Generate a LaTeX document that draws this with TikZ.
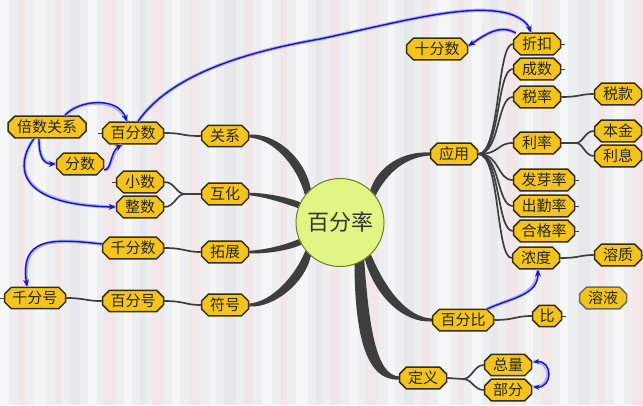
\documentclass[tikz,border=0pt]{standalone}
\usepackage{fontspec}
\newfontfamily\cjk{Noto Sans CJK SC}
\usetikzlibrary{shapes.misc,arrows.meta,backgrounds,calc}
\definecolor{boxfill}{HTML}{F4C41E}
\definecolor{boxline}{HTML}{3A2E08}
\definecolor{circfill}{HTML}{E0F584}
\definecolor{circline}{HTML}{6E7A28}
\definecolor{trunkc}{HTML}{3E3E3E}
\definecolor{relc}{HTML}{1616C8}
\definecolor{relhalo}{HTML}{AFAFF2}
\definecolor{bgbase}{HTML}{EDEEF0}
\definecolor{stpink}{HTML}{F3E6E8}
\definecolor{stwhite}{HTML}{F6F6F7}
\definecolor{stgray}{HTML}{E6E8EB}
\begin{document}
\begin{tikzpicture}[x=1pt,y=-1pt,
 box/.style={chamfered rectangle, chamfered rectangle xsep=4pt, draw=boxline, line width=1.5pt, fill=boxfill,
   font=\cjk\fontsize{15}{15}\selectfont, text=black!85, inner xsep=1pt, inner ysep=1pt,
   minimum height=21pt, minimum width=47pt},
 w3/.style={minimum width=61pt},
 w4/.style={minimum width=78pt},
 sub/.style={draw=trunkc, line width=1.7pt},
 trunk/.style={fill=trunkc},
 rel/.style={draw=relc, line width=1.4pt, -{Stealth[length=7pt,width=6pt]},
   preaction={draw=relhalo, line width=3.4pt, -}},
 circ/.style={circle, draw=circline, line width=1pt, fill=circfill, minimum size=88pt,
   font=\cjk\fontsize{22}{22}\selectfont, text=black!80}
]
\useasboundingbox (0,0) rectangle (643,405);
\begin{scope}[on background layer]
\fill[bgbase] (0,0) rectangle (643,405);
\foreach \x/\w/\c in {0/9/stwhite,18/7/stpink,34/12/stwhite,55/6/stpink,70/10/stgray,88/9/stwhite,104/12/stpink,
 124/8/stwhite,140/6/stgray,152/12/stpink,172/8/stwhite,190/10/stpink,210/6/stwhite,224/12/stgray,244/9/stpink,
 262/10/stwhite,280/7/stpink,296/12/stwhite,316/6/stgray,330/10/stpink,350/8/stwhite,366/12/stpink,388/7/stwhite,
 404/10/stgray,422/8/stpink,438/12/stwhite,458/6/stpink,472/10/stwhite,490/8/stgray,506/12/stpink,526/7/stwhite,
 542/10/stpink,560/8/stwhite,578/12/stgray,598/7/stpink,614/10/stwhite,632/11/stpink}
 {\fill[\c] (\x,0) rectangle ++(\w,405);}
\end{scope}

% centre
\node[circ] (c) at (340,222.5) {百分率};

% left side
\node[box,w4] (beishu) at (47,127) {倍数关系};
\node[box,w3] (bfs) at (133,133) {百分数};
\node[box] (guanxi) at (225,136) {关系};
\node[box] (fenshu) at (80,164) {分数};
\node[box] (xiaoshu) at (140,182) {小数};
\node[box] (huhua) at (225,194) {互化};
\node[box] (zhengshu) at (140,207) {整数};
\node[box,w3] (qfs) at (133,248) {千分数};
\node[box] (tuozhan) at (225,252) {拓展};
\node[box,w3] (bfh) at (133,301) {百分号};
\node[box] (fuhao) at (225,305) {符号};
\node[box,w3] (qfh) at (35,298) {千分号};

% right side
\node[box,w3] (sfs) at (437,49) {十分数};
\node[box] (zhekou) at (537,44) {折扣};
\node[box] (chengshu) at (537,69) {成数};
\node[box] (shuilv) at (537,97) {税率};
\node[box] (shuikuan) at (618,94) {税款};
\node[box] (benjin) at (618,131) {本金};
\node[box] (lixi) at (618,156) {利息};
\node[box] (lilv) at (537,143) {利率};
\node[box] (yingyong) at (454,154) {应用};
\node[box,w3] (faya) at (544,180) {发芽率};
\node[box,w3] (chuqin) at (544,206) {出勤率};
\node[box,w3] (hege) at (544,231) {合格率};
\node[box] (nongdu) at (536,258) {浓度};
\node[box] (rongzhi) at (618,255) {溶质};
\node[box,draw=boxline!70] (rongye) at (603,298) {溶液};
\node[box,w3] (bfb) at (463,320) {百分比};
\node[box,minimum width=29pt] (bi) at (547,316) {比};
\node[box] (dingyi) at (423,378) {定义};
\node[box] (zongliang) at (508,365) {总量};
\node[box] (bufen) at (508,390) {部分};

% trunks from the centre
\begin{scope}[on background layer]
\fill[trunk] (c.142) .. controls (296,163) and (272,139) .. ($(guanxi.east)+(0,1.5)$)
   -- ($(guanxi.east)+(0,-1.5)$) .. controls (276,133) and (305,158) .. (c.131) -- cycle;
\fill[trunk] (c.161) .. controls (284,203) and (265,197) .. ($(huhua.east)+(0,1.3)$)
   -- ($(huhua.east)+(0,-1.3)$) .. controls (266,193) and (287,197) .. (c.153) -- cycle;
\fill[trunk] (c.202) .. controls (285,245) and (265,250) .. ($(tuozhan.east)+(0,-1.3)$)
   -- ($(tuozhan.east)+(0,1.3)$) .. controls (265,254) and (287,251) .. (c.210) -- cycle;
\fill[trunk] (c.219) .. controls (296,275) and (272,302) .. ($(fuhao.east)+(0,-1.5)$)
   -- ($(fuhao.east)+(0,1.5)$) .. controls (274,308) and (305,283) .. (c.229) -- cycle;
\fill[trunk] (c.47) .. controls (378,166) and (403,151) .. ($(yingyong.west)+(0,-1.5)$)
   -- ($(yingyong.west)+(0,1.5)$) .. controls (407,157) and (388,171) .. (c.37) -- cycle;
\fill[trunk] (c.314) .. controls (386,290) and (407,317) .. ($(bfb.west)+(0,-1.5)$)
   -- ($(bfb.west)+(0,1.5)$) .. controls (403,323) and (375,296) .. (c.304) -- cycle;
\fill[trunk] (c.303) .. controls (369,330) and (377,375) .. ($(dingyi.west)+(0,-1.6)$)
   -- ($(dingyi.west)+(0,1.6)$) .. controls (367,381) and (355,338) .. (c.289) -- cycle;
\end{scope}

% secondary connectors
\coordinate (f1) at (185,194);
\coordinate (f2) at (576,143);
\coordinate (f3) at (463,379);
\draw[sub] (bfs.east) .. controls (185,133) and (180,136) .. (guanxi.west);
\draw[sub] (huhua.west) -- (f1);
\draw[sub] (f1) .. controls (176,194) and (175,182) .. (xiaoshu.east);
\draw[sub] (f1) .. controls (176,194) and (175,207) .. (zhengshu.east);
\draw[sub] (tuozhan.west) .. controls (185,252) and (185,248) .. (qfs.east);
\draw[sub] (fuhao.west) .. controls (185,305) and (185,301) .. (bfh.east);
\draw[sub] (bfh.west) .. controls (85,301) and (85,298) .. (qfh.east);
\foreach \t in {zhekou,chengshu,shuilv,lilv,faya,chuqin,hege,nongdu}
  \draw[sub] (yingyong.east) .. controls +(22,0) and +(-16,0) .. (\t.west);
\draw[sub] (shuilv.east) .. controls (580,97) and (580,94) .. (shuikuan.west);
\draw[sub] (lilv.east) -- (f2);
\draw[sub] (f2) .. controls (583,143) and (585,131) .. (benjin.west);
\draw[sub] (f2) .. controls (583,143) and (585,156) .. (lixi.west);
\draw[sub] (nongdu.east) .. controls (580,258) and (580,255) .. (rongzhi.west);
\draw[sub] (bfb.east) .. controls (515,320) and (515,316) .. (bi.west);
\draw[sub] (dingyi.east) -- (f3);
\draw[sub] (f3) .. controls (472,379) and (474,365) .. (zongliang.west);
\draw[sub] (f3) .. controls (472,379) and (474,390) .. (bufen.west);
% small stubs
\foreach \t in {bfs,xiaoshu,qfh} \draw[sub,line width=1pt] (\t.west) -- ++(-4,0);
\foreach \t in {zhekou,chengshu,faya,chuqin,hege,bi,rongzhi} \draw[sub,line width=1pt] (\t.east) -- ++(4,0);

% relation arrows
\draw[rel] ($(beishu.north)+(18,0)$) .. controls (78,100) and (118,96) .. ($(bfs.north)+(-6,0)$);
\draw[rel] ($(beishu.south)+(-8,0)$) .. controls (39,158) and (44,164) .. (fenshu.west);
\draw[rel] ($(beishu.south)+(-13,0)$) .. controls (15,165) and (15,205) .. (zhengshu.west);
\draw[rel] ($(fenshu.east)+(0,6)$) .. controls (112,170) and (110,152) .. ($(bfs.south)+(-11,0)$);
\draw[rel] ($(bfs.north)+(5,0)$) .. controls (170,75) and (245,52) .. (320,39)
   .. controls (400,22) and (470,2) .. (510,14) .. controls (522,18) and (528,24) .. ($(zhekou.north)+(-6,0)$);
\draw[rel] ($(zhekou.west)+(3,-11)$) .. controls (500,24) and (486,34) .. ($(sfs.east)+(0,-3)$);
\draw[rel] ($(qfs.west)+(0,-4)$) .. controls (50,238) and (20,238) .. ($(qfh.north)+(-8,0)$);
\draw[rel] ($(bfb.east)+(-7,-11)$) .. controls (510,298) and (538,296) .. ($(nongdu.south)+(2,0)$);
\draw[rel,{Stealth[length=6pt,width=5pt]}-{Stealth[length=6pt,width=5pt]}]
   ($(zongliang.east)+(1,-3)$) .. controls (553,360) and (553,388) .. ($(bufen.east)+(1,-3)$);
\end{tikzpicture}
\end{document}
